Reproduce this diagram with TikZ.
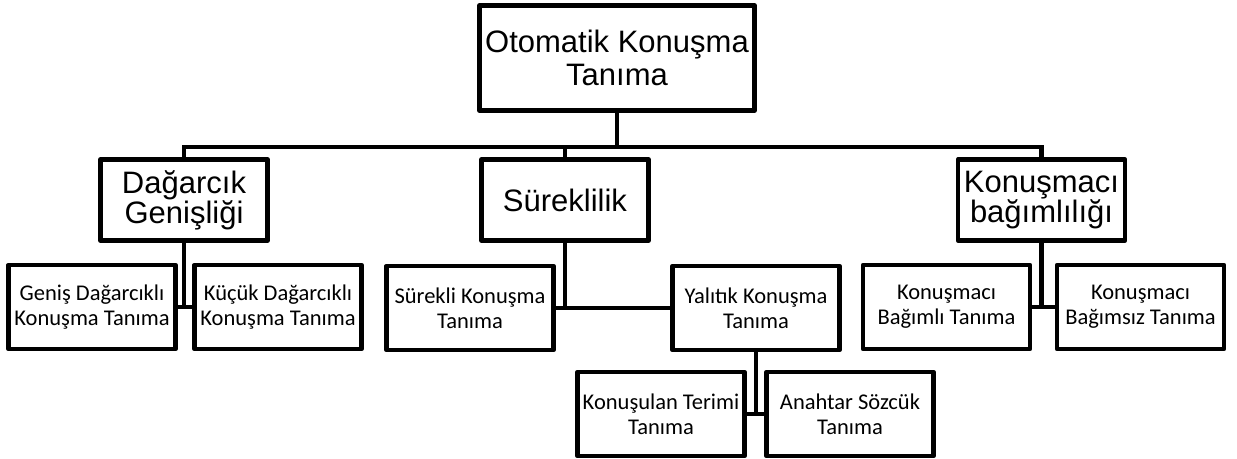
\documentclass[tikz,border=0pt]{standalone}
\usepackage{fontspec}
\setmainfont{Liberation Sans}
\newfontfamily\kalibri{Carlito}
\tikzset{
  kutu/.style={draw=black, line width=2.4pt, line join=round, fill=white, align=center, inner sep=0pt},
  kok/.style={kutu, minimum width=137.5pt, minimum height=52.5pt, font=\fontsize{15.5}{16.5}\selectfont},
  dal/.style={kutu, minimum width=83.5pt, minimum height=40.5pt, font=\fontsize{15.5}{15}\selectfont},
  yaprak/.style={kutu, minimum width=83.5pt, minimum height=42pt, font=\kalibri\fontsize{11.25}{12.5}\selectfont},
  hat/.style={draw=black, line width=2.2pt},
}
\begin{document}
\begin{tikzpicture}[x=0.5pt, y=-0.5pt]
  \useasboundingbox (0,0) rectangle (1237,459);
  % ust duzey
  \node[kok] (otomatik) at (617,58) {Otomatik Konuşma\\Tanıma};
  \coordinate (bar) at (617,147);
  % ikinci duzey
  \node[dal] (dag) at (184,200) {Dağarcık\\Genişliği};
  \node[dal] (sur) at (565,200) {Süreklilik};
  \node[dal] (kon) at (1041.5,200) {Konuşmacı\\bağımlılığı};
  % yapraklar
  \node[yaprak] (genis) at (92,307) {Geniş Dağarcıklı\\Konuşma Tanıma};
  \node[yaprak] (kucuk) at (278,307) {Küçük Dağarcıklı\\Konuşma Tanıma};
  \node[yaprak] (surekli) at (470,308) {Sürekli Konuşma\\Tanıma};
  \node[yaprak] (yalitik) at (756,308) {Yalıtık Konuşma\\Tanıma};
  \node[yaprak] (terim) at (661,414) {Konuşulan Terimi\\Tanıma};
  \node[yaprak] (anahtar) at (850,414) {Anahtar Sözcük\\Tanıma};
  \node[yaprak] (bagimli) at (946.5,307) {Konuşmacı\\Bağımlı Tanıma};
  \node[yaprak] (bagimsiz) at (1140.5,307) {Konuşmacı\\Bağımsız Tanıma};
  % baglantilar
  \draw[hat] (otomatik.south) -- (bar);
  \draw[hat] (dag.north) |- (bar) -| (kon.north);
  \draw[hat] (sur.north) -- (sur.north |- bar);
  \draw[hat] (dag.south) -- (dag.south |- genis.east);
  \draw[hat] (genis.east) -- (kucuk.west);
  \draw[hat] (sur.south) -- (sur.south |- surekli.east);
  \draw[hat] (surekli.east) -- (yalitik.west);
  \draw[hat] (yalitik.south) -- (yalitik.south |- terim.east);
  \draw[hat] (terim.east) -- (anahtar.west);
  \draw[hat] (kon.south) -- (kon.south |- bagimli.east);
  \draw[hat] (bagimli.east) -- (bagimsiz.west);
\end{tikzpicture}
\end{document}
